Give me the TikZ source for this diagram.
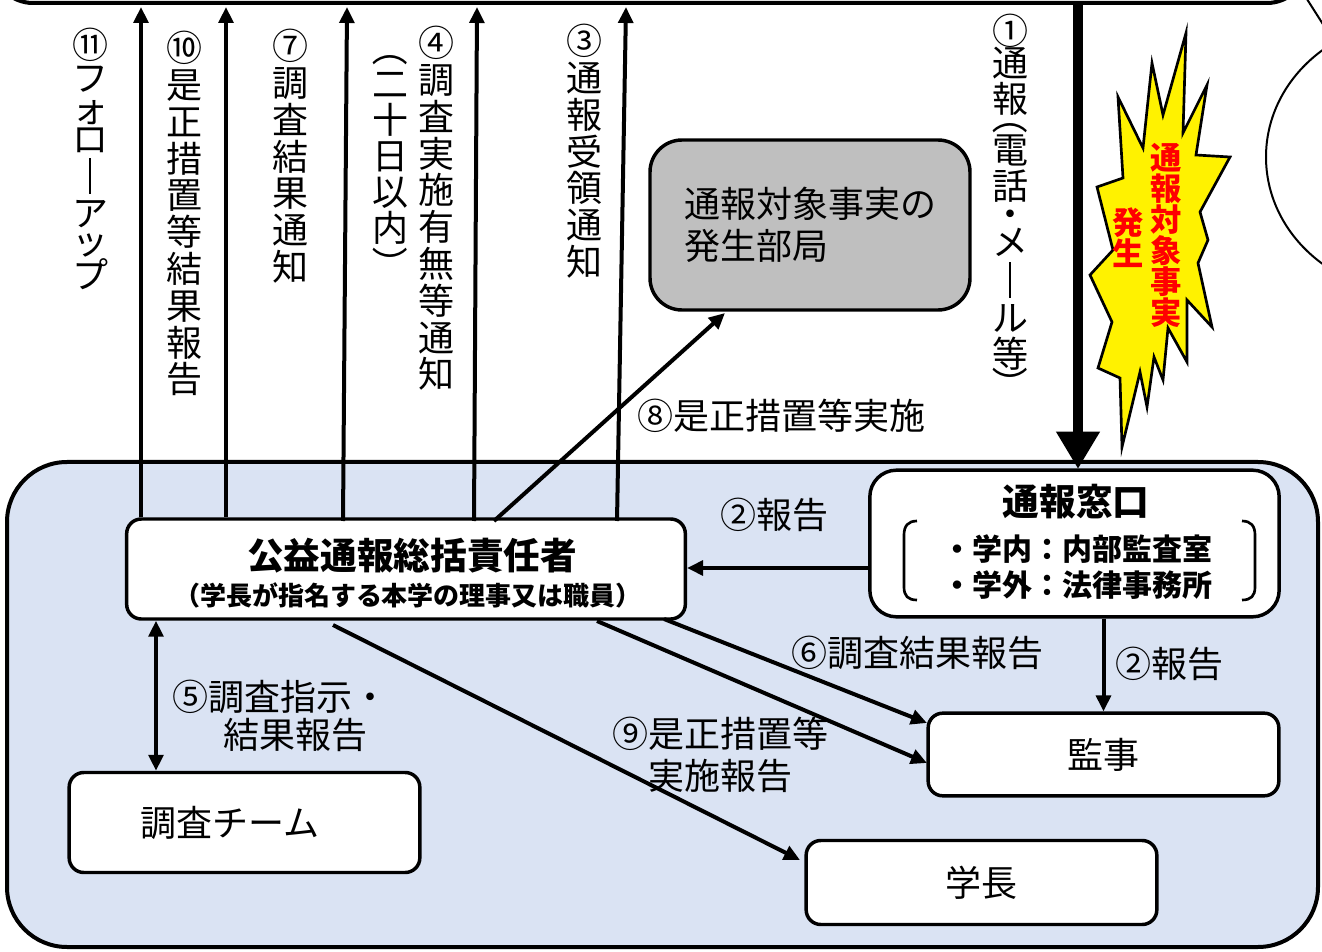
\documentclass[tikz,border=0pt]{standalone}
\usepackage{fontspec}
\newfontfamily\jp{Noto Sans CJK JP}
\usetikzlibrary{arrows.meta}
\definecolor{bgblue}{HTML}{DAE3F3}
\definecolor{deptgray}{HTML}{BFBFBF}
\newcommand\vbarL{\rule[-0.1em]{0.075em}{1em}}
\newcommand\vlp{\smash{\rotatebox[origin=c]{-90}{（}}}
\newcommand\vrp{\smash{\rotatebox[origin=c]{-90}{）}}}
\newcommand\vdot{\smash{・}}
\newcommand\kph{\vphantom{国}}
\tikzset{
  box/.style={draw, line width=2.6pt, rounded corners=11pt, fill=white, inner sep=0pt},
  arr/.style={line width=3pt, -{Triangle[length=12pt,width=11pt]}},
  darr/.style={line width=3pt, {Triangle[length=12pt,width=11pt]}-{Triangle[length=12pt,width=11pt]}},
  lbl/.style={font=\jp\fontsize{27pt}{32pt}\selectfont, inner sep=0pt, align=center},
  vstack/.style={font={\jp\fontsize{27pt}{27pt}\selectfont\lineskiplimit=-100pt}, inner sep=0pt, anchor=north, align=center},
  kstack/.style={vstack, font={\jp\fontsize{27pt}{27.6pt}\selectfont\lineskiplimit=-100pt}},
  redv/.style={font={\jp\bfseries\fontsize{23.5pt}{23.3pt}\selectfont\lineskiplimit=-100pt}, text=red, inner sep=0pt, anchor=north, align=center},
}
\begin{document}
\begin{tikzpicture}[x=0.75pt,y=-0.75pt]
\useasboundingbox (0,0) rectangle (1322,952);
% top (cut) box and right ellipse
\draw[line width=3pt, fill=white, rounded corners=30pt] (-7,-120) rectangle (1307,3);
\draw[line width=1.5pt] (1416,157) ellipse [x radius=112.5pt, y radius=102.5pt];
\draw[line width=1.5pt] (1305,-4) .. controls (1312,7) .. (1326,29);
% big blue area
\draw[line width=3pt, fill=bgblue, rounded corners=45pt] (7,462) rectangle (1318,947);

% starburst
\draw[line width=2pt, fill=yellow, line join=miter]
 (1186,33) -- (1183,133) -- (1207,85) -- (1196,155) -- (1230,157) -- (1200,212) --
 (1208,240) -- (1198,263) -- (1212,327) -- (1187,300) -- (1187,362) -- (1168,328) --
 (1163,380) -- (1154,357) -- (1147,407) -- (1140,372) -- (1122,447) -- (1120,378) --
 (1098,368) -- (1112,322) -- (1090,275) -- (1113,250) -- (1097,187) -- (1123,178) --
 (1118,97) -- (1143,148) -- (1152,63) -- (1163,115) -- cycle;
\node[redv] (sb1) at (1166,143) {通\\報\\対\\象\\事\\実};
\node[redv] (sb2) at (1128,207) {発\\生};

% boxes
\node[box, minimum width=419pt, minimum height=75pt] (koueki) at (406,569) {};
\node[lbl, font=\jp\bfseries\fontsize{27.5pt}{30pt}\selectfont] (kouekiT) at (412,556) {公益通報総括責任者};
\node[lbl, font=\jp\bfseries\fontsize{19.5pt}{22pt}\selectfont] (kouekiS) at (408,595) {（学長が指名する本学の理事又は職員）};

\node[box, rounded corners=20pt, minimum width=307pt, minimum height=110pt] (mado) at (1074.5,543.5) {};
\node[lbl, font=\jp\bfseries\fontsize{27.5pt}{30pt}\selectfont] (madoT) at (1076,502) {通報窓口};
\node[lbl, font=\jp\bfseries\fontsize{22.5pt}{26pt}\selectfont] (mado1) at (1077,549) {・学内：内部監査室};
\node[lbl, font=\jp\bfseries\fontsize{22.5pt}{26pt}\selectfont] (mado2) at (1077,585) {・学外：法律事務所};
\draw[line width=2pt] (917,521) .. controls (908,521) and (904,526) .. (904,535) -- (904,587)
      .. controls (904,596) and (908,600) .. (917,600);
\draw[line width=2pt] (1242,521) .. controls (1251,521) and (1255,526) .. (1255,535) -- (1255,587)
      .. controls (1255,596) and (1251,600) .. (1242,600);

\node[box, minimum width=263pt, minimum height=62pt, lbl] (kanji) at (1103.5,754.5) {監事};
\node[box, minimum width=263pt, minimum height=63pt, lbl] (gakucho) at (981.5,882.5) {学長};
\node[box, minimum width=263pt, minimum height=75pt, lbl] (chosa) at (244.5,822.5) {調査チーム\hspace*{22pt}};
\node[box, fill=deptgray, rounded corners=24pt, minimum width=240pt, minimum height=127.5pt,
      lbl, font=\jp\fontsize{27pt}{31.5pt}\selectfont, align=left] (bukyoku) at (810,225) {通報対象事実の\\発生部局};

% coordinates on top box
\coordinate (t11) at (141,7);
\coordinate (t10) at (226,7);
\coordinate (t7) at (347,7);
\coordinate (t4) at (477,7);
\coordinate (t3) at (626,7);
\coordinate (b7) at (343,521);
\coordinate (b4) at (474,521);
\coordinate (b3) at (617,521);
\coordinate (b8) at (494,521);
\coordinate (e8) at (725,313);
\coordinate (t1) at (1078,3);
\coordinate (e1) at (1078,469);

% upward arrows
\draw[arr] (koueki.north -| t11) -- (t11);
\draw[arr] (koueki.north -| t10) -- (t10);
\draw[arr] (b7) -- (t7);
\draw[arr] (b4) -- (t4);
\draw[arr] (b3) -- (t3);
\draw[arr] (b8) -- (e8);
\draw[line width=7pt, -{Triangle[length=28pt,width=31pt]}] (t1) -- (e1);

% arrows inside
\coordinate (m2) at (869.5,568);
\draw[arr] (m2) -- (koueki.east |- m2);
\draw[arr] (mado.south -| kanji.north) -- (kanji.north);
\coordinate (k6) at (664,619);
\coordinate (e6) at (927,723);
\draw[arr] (k6) -- (e6);
\coordinate (k9a) at (597,621);
\coordinate (e9a) at (927,763);
\draw[arr] (k9a) -- (e9a);
\coordinate (k9b) at (333,625);
\coordinate (e9b) at (800,860);
\draw[arr] (k9b) -- (e9b);
\draw[darr] (koueki.south -| 156,0) -- (chosa.north -| 156,0);

% vertical labels (stacked characters)
\node[vstack] (v11) at (90,28)
  {⑪\kph\\[-2.25pt]フ\\[-3.75pt]ォ\\[-4.5pt]ロ\\[1pt]\vbarL\\[0.5pt]ア\\[-6pt]ッ\\[-2pt]プ};
\node[kstack] (v10) at (184,31) {⑩\kph\\是\\正\\措\\置\\等\\結\\果\\報\\告};
\node[kstack] (v7) at (290,29) {⑦\kph\\調\\査\\結\\果\\通\\知};
\node[kstack] (v4) at (436,26) {④\kph\\調\\査\\実\\施\\有\\無\\等\\通\\知};
\node[vstack] (v4b) at (390,33) {\vlp\kph\\二\\十\\日\\以\\内\\\vrp};
\node[kstack] (v3) at (584,24) {③\kph\\通\\報\\受\\領\\通\\知};
\node[vstack] (v1) at (1010,14)
  {①\kph\\[-3pt]通\\報\\[-14pt]\vlp\\[-2pt]電\\話\\[-6pt]\vdot\\[-6pt]メ\\[2pt]\vbarL\\[1pt]ル\\等\\[-4pt]\vrp};

% horizontal labels
\node[lbl] (l8) at (781,416) {⑧是正措置等実施};
\node[lbl] (l2a) at (774,515) {②報告};
\node[lbl] (l2b) at (1169,664) {②報告};
\node[lbl] (l6) at (917,653) {⑥調査結果報告};
\node[lbl] (l9) at (720,755) {⑨是正措置等\\実施報告};
\node[lbl] (l5a) at (280,697) {⑤調査指示・};
\node[lbl] (l5b) at (295,735) {結果報告};
\end{tikzpicture}
\end{document}
